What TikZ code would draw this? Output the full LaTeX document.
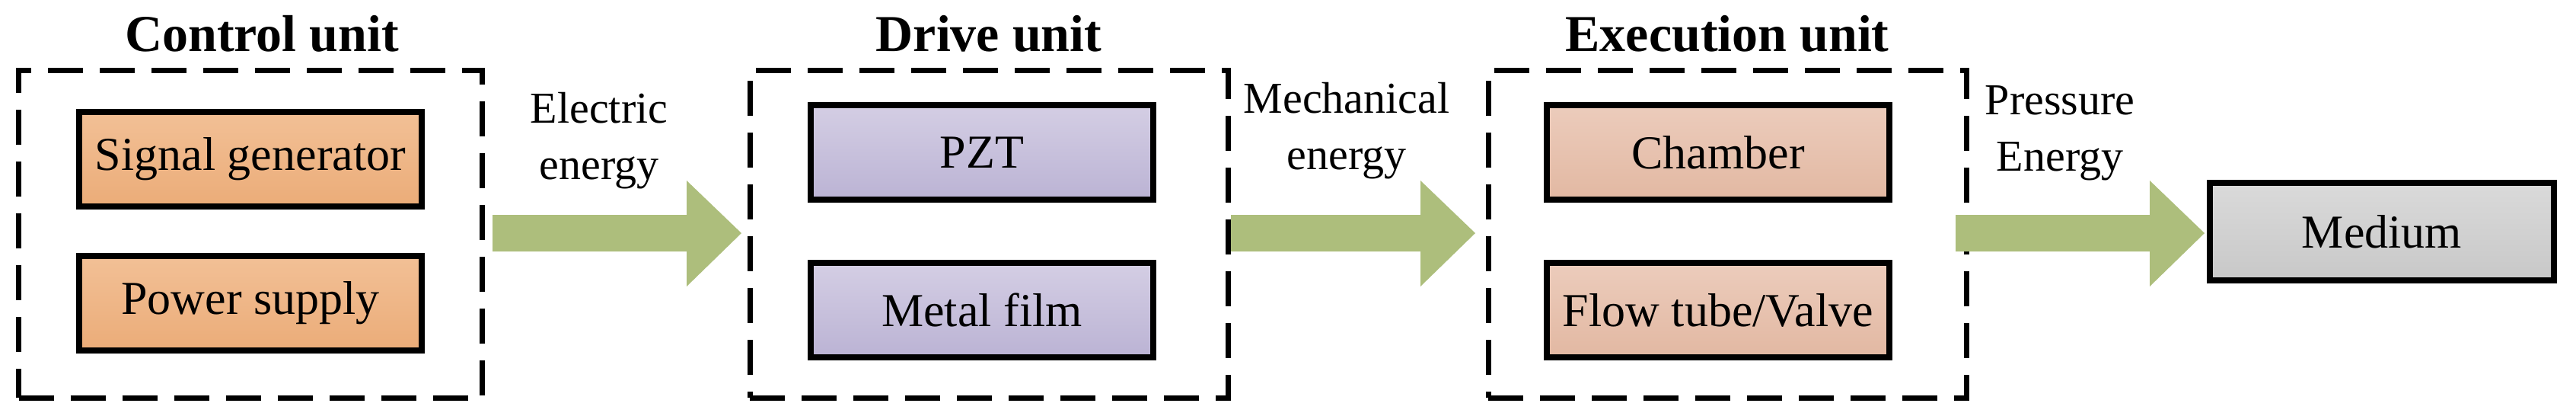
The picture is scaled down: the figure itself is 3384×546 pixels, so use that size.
\documentclass[tikz,border=0pt]{standalone}
\usepackage{fontspec}
\setmainfont{Liberation Serif}
\begin{document}
\begin{tikzpicture}[x=1pt,y=-1pt,
  grp/.style={draw,line width=7pt,dash pattern=on 46pt off 22pt},
  blk/.style={draw,line width=8pt,minimum width=450pt,minimum height=124pt,font=\fontsize{62}{70}\selectfont,inner sep=0pt},
  org/.style={blk,top color=orange!30!white!100!black,top color={rgb,255:red,242;green,192;blue,150},bottom color={rgb,255:red,235;green,172;blue,120}},
  pur/.style={blk,top color={rgb,255:red,212;green,206;blue,228},bottom color={rgb,255:red,187;green,179;blue,212}},
  pch/.style={blk,top color={rgb,255:red,236;green,204;blue,188},bottom color={rgb,255:red,226;green,184;blue,162}},
  gry/.style={blk,top color={rgb,255:red,218;green,218;blue,218},bottom color={rgb,255:red,200;green,200;blue,200}},
  ttl/.style={font=\fontsize{68}{76}\selectfont\bfseries},
  lbl/.style={font=\fontsize{58}{74}\selectfont,align=center},
  fat/.style={fill={rgb,255:red,173;green,190;blue,124}}]
\useasboundingbox (0,0) rectangle (3384,546);
% groups
\node[grp,minimum width=609pt,minimum height=430pt] (cu) at (329,307) {};
\node[grp,minimum width=628pt,minimum height=430pt] (du) at (1299,307) {};
\node[grp,minimum width=628pt,minimum height=430pt] (eu) at (2269,307) {};
\node[ttl] (cut) at (344,44) {Control unit};
\node[ttl] (dut) at (1299,44) {Drive unit};
\node[ttl] (eut) at (2269,44) {Execution unit};
% blocks
\node[org] (sg) at (329,209) {Signal generator};
\node[org] (ps) at (329,398) {Power supply};
\node[pur] (pzt) at (1290,200) {PZT};
\node[pur] (mf) at (1290,407) {Metal film};
\node[pch] (ch) at (2257,200) {Chamber};
\node[pch] (ft) at (2257,407) {Flow tube/Valve};
\node[gry,minimum width=452pt,minimum height=128pt] (md) at (3129,304) {Medium};
% arrows
\foreach \a/\b in {647/974,1617/1938,2569/2896}{
  \fill[fat] (\a,282) -- (\b-72,282) -- (\b-72,237) -- (\b,306) -- (\b-72,376) -- (\b-72,330) -- (\a,330) -- cycle;}
\node[lbl] (l1) at (787,185) {Electric\\energy};
\node[lbl] (l2) at (1769,172) {Mechanical\\energy};
\node[lbl] (l3) at (2706,175) {Pressure\\Energy};
\end{tikzpicture}
\end{document}
